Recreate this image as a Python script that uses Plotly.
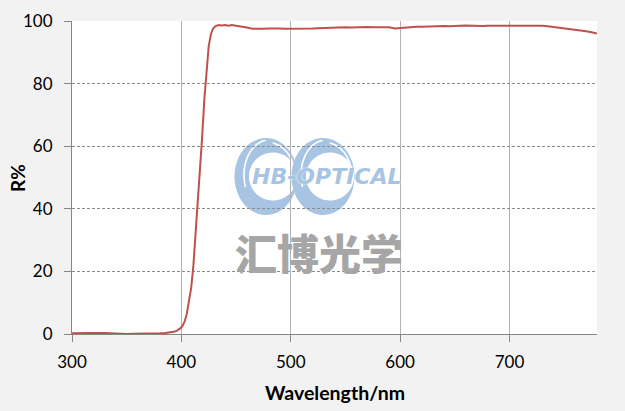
import numpy as np
import plotly.graph_objects as go

# ---- data ----
wavelength = [300, 305, 310, 315, 320, 325, 330, 335, 340, 345, 350, 355, 360, 365, 370,
              375, 380, 385, 390, 393, 396, 399, 401, 403, 405, 407, 409, 411, 413, 415,
              417, 419, 421, 423, 425, 427, 429, 431, 434, 437, 440, 443, 446, 450, 455,
              460, 465, 470, 475, 480, 485, 490, 495, 500, 505, 510, 515, 520, 525, 530,
              535, 540, 545, 550, 555, 560, 565, 570, 575, 580, 585, 590, 595, 600, 605,
              610, 615, 620, 625, 630, 635, 640, 645, 650, 655, 660, 665, 670, 675, 680,
              685, 690, 695, 700, 705, 710, 715, 720, 725, 730, 735, 740, 745, 750, 755,
              760, 765, 770, 775, 780]
reflectance = [0.2, 0.3, 0.2, 0.3, 0.3, 0.4, 0.3, 0.2, 0.1, 0.0, 0.0, 0.1, 0.1, 0.0, 0.1,
               0.2, 0.2, 0.3, 0.5, 0.7, 1.1, 1.8, 2.6, 4.0, 6.5, 10.5, 14.8, 22.0, 32.0, 41.0,
               51.0, 63.0, 75.0, 85.0, 92.0, 95.8, 97.6, 98.3, 98.7, 98.6, 98.7, 98.5, 98.7, 98.5, 98.3,
               97.9, 97.5, 97.4, 97.5, 97.6, 97.7, 97.6, 97.5, 97.5, 97.6, 97.4, 97.5, 97.6, 97.7, 97.8,
               97.8, 97.9, 98.0, 98.0, 97.9, 98.0, 98.1, 98.1, 98.0, 98.0, 98.0, 98.0, 97.6, 97.8, 98.0,
               98.1, 98.2, 98.2, 98.3, 98.3, 98.4, 98.4, 98.3, 98.5, 98.5, 98.6, 98.5, 98.5, 98.4, 98.5,
               98.5, 98.6, 98.6, 98.7, 98.6, 98.6, 98.6, 98.6, 98.5, 98.5, 98.3, 98.1, 97.9, 97.7, 97.4,
               97.3, 97.0, 96.7, 96.4, 96.0]

x_ticks = [300, 400, 500, 600, 700]
y_ticks = [0, 20, 40, 60, 80, 100]

W, H = 625, 411
L, R, T, B = 72, 28, 21, 77
PW, PH = W - L - R, H - T - B


def px2paper(px, py):
    return (px - L) / PW, (H - B - py) / PH


def ellipse_path(cx, cy, rx, ry, t0=0, t1=360, n=90, closed=True):
    t = np.radians(np.linspace(t0, t1, n))
    pts = [px2paper(cx + rx * np.cos(a), cy + ry * np.sin(a)) for a in t]
    d = "M " + " L ".join(f"{x:.5f},{y:.5f}" for x, y in pts)
    return d + (" Z" if closed else "")


fig = go.Figure()
fig.add_trace(go.Scatter(x=wavelength, y=reflectance, mode="lines",
                         line=dict(color="#c0504d", width=2), showlegend=False))

BLUE = "#a8c4e3"
shapes = []
for cx in (266.0, 323.0):
    shapes.append(dict(type="path", xref="paper", yref="paper", layer="below",
                       path=ellipse_path(cx, 176.5, 31.5, 38.5), fillcolor=BLUE,
                       line=dict(width=0)))
    shapes.append(dict(type="path", xref="paper", yref="paper", layer="below",
                       path=ellipse_path(cx + 7, 176.5, 24, 24), fillcolor="white",
                       line=dict(width=0)))
    shapes.append(dict(type="path", xref="paper", yref="paper", layer="below",
                       path=ellipse_path(cx + 3, 175, 25, 35, 160, 262, 40, closed=False),
                       line=dict(color="white", width=1.6)))
    shapes.append(dict(type="path", xref="paper", yref="paper", layer="below",
                       path=ellipse_path(cx + 2, 176.5, 27, 34, -80, -18, 30, closed=False),
                       line=dict(color="white", width=1.6)))

fig.update_layout(shapes=shapes)

fig.add_annotation(text="HB-OPTICAL", xref="paper", yref="paper",
                   x=px2paper(326.5, 176.5)[0], y=px2paper(326.5, 176.5)[1],
                   showarrow=False, xanchor="center", yanchor="middle",
                   font=dict(family="DejaVu Sans", size=22, color=BLUE, weight="bold",
                             style="italic", shadow="0px 0px 2px #ffffff"))
fig.add_annotation(text="汇博光学", xref="paper", yref="paper",
                   x=px2paper(319, 252)[0], y=px2paper(319, 252)[1],
                   showarrow=False, xanchor="center", yanchor="middle",
                   font=dict(family="Noto Sans CJK SC", size=42, color="#a6a6a6", weight=900))

# axis titles
fig.add_annotation(text="<b>Wavelength/nm</b>", xref="paper", yref="paper",
                   x=px2paper(335, 392)[0], y=px2paper(335, 392)[1],
                   showarrow=False, xanchor="center", yanchor="middle",
                   font=dict(family="Lato", size=19.5, color="#000000"))
fig.add_annotation(text="<b>R%</b>", xref="paper", yref="paper",
                   x=px2paper(17, 178)[0], y=px2paper(17, 178)[1],
                   showarrow=False, xanchor="center", yanchor="middle", textangle=-90,
                   font=dict(family="Lato", size=19, color="#000000"))

fig.update_layout(
    width=W, height=H,
    margin=dict(l=L, r=R, t=T, b=B, autoexpand=False),
    paper_bgcolor="#f2f2f2", plot_bgcolor="#ffffff",
    font=dict(family="Lato", size=17, color="#000000"),
    xaxis=dict(range=[300, 780], tickvals=x_ticks, showgrid=True, gridcolor="#b3b3b3",
               gridwidth=1, showline=True, linecolor="#868686", linewidth=1,
               ticks="outside", ticklen=7, tickcolor="#868686", ticklabelstandoff=6,
               zeroline=False, fixedrange=True),
    yaxis=dict(range=[0, 100], tickvals=y_ticks, showgrid=True, gridcolor="#8c8c8c",
               griddash="3px,2px", gridwidth=1, showline=True, linecolor="#868686",
               linewidth=1, ticks="outside", ticklen=7, tickcolor="#868686",
               ticklabelstandoff=8, zeroline=False, fixedrange=True),
)

fig.write_html("out.html", config={"displayModeBar": False},
               post_script="document.body.style.margin='0';document.body.style.overflow='hidden';")
